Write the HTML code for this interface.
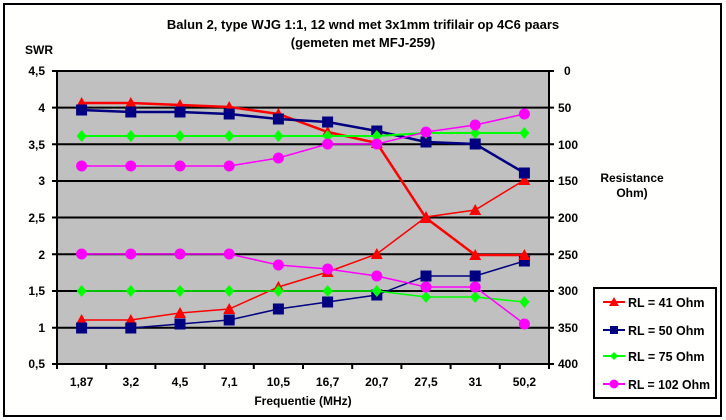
<!DOCTYPE html>
<html><head><meta charset="utf-8"><style>
body{margin:0;background:#fff;}
svg{display:block;font-family:"Liberation Sans",Arial,sans-serif;}
</style></head><body>
<svg width="726" height="420" viewBox="0 0 726 420" xmlns="http://www.w3.org/2000/svg">
<defs>
<marker id="tri" markerUnits="userSpaceOnUse" markerWidth="14" markerHeight="14" refX="7" refY="7" orient="0"><path d="M7,1 L13,12 L1,12 Z" fill="#ff0000"/></marker>
<marker id="sq" markerUnits="userSpaceOnUse" markerWidth="14" markerHeight="14" refX="7" refY="7" orient="0"><rect x="1.5" y="1.5" width="11" height="11" fill="#000080"/></marker>
<marker id="dia" markerUnits="userSpaceOnUse" markerWidth="14" markerHeight="14" refX="7" refY="7" orient="0"><path d="M7,1 L12,7 L7,13 L2,7 Z" fill="#00ff00"/></marker>
<marker id="cir" markerUnits="userSpaceOnUse" markerWidth="14" markerHeight="14" refX="7" refY="7" orient="0"><circle cx="7" cy="7" r="5.5" fill="#ff00ff"/></marker>
</defs>
<rect x="0" y="0" width="726" height="420" fill="#fff"/>
<rect x="4" y="4" width="717" height="412" fill="#fffffe" stroke="#000" stroke-width="2"/>
<text x="363" y="29" text-anchor="middle" font-size="13" font-weight="bold">Balun 2, type WJG 1:1, 12 wnd met 3x1mm trifilair op 4C6 paars</text>
<text x="363" y="47" text-anchor="middle" font-size="13" font-weight="bold">(gemeten met MFJ-259)</text>
<text x="25" y="54" font-size="12" font-weight="bold">SWR</text>
<rect x="57" y="71" width="492" height="293" fill="#c0c0c0"/>
<g stroke="#000" stroke-width="2">
<line x1="57" y1="107.6" x2="549" y2="107.6"/>
<line x1="57" y1="144.3" x2="549" y2="144.3"/>
<line x1="57" y1="181" x2="549" y2="181"/>
<line x1="57" y1="217.5" x2="549" y2="217.5"/>
<line x1="57" y1="254.3" x2="549" y2="254.3"/>
<line x1="57" y1="291" x2="549" y2="291"/>
<line x1="57" y1="327.7" x2="549" y2="327.7"/>
<rect x="57" y="71" width="492" height="293" fill="none"/>
<path d="M52,71h5M52,107.6h5M52,144.3h5M52,181h5M52,217.5h5M52,254.3h5M52,291h5M52,327.7h5M52,364h5"/>
<path d="M549,71h5M549,107.6h5M549,144.3h5M549,181h5M549,217.5h5M549,254.3h5M549,291h5M549,327.7h5M549,364h5"/>
<path d="M57,364v5M106.2,364v5M155.4,364v5M204.6,364v5M253.8,364v5M303,364v5M352.2,364v5M401.4,364v5M450.6,364v5M499.8,364v5M549,364v5"/>
</g>
<g font-size="12" font-weight="bold" text-anchor="end">
<text x="45" y="75">4,5</text><text x="45" y="112">4</text><text x="45" y="149">3,5</text><text x="45" y="185">3</text><text x="45" y="222">2,5</text><text x="45" y="259">2</text><text x="45" y="295">1,5</text><text x="45" y="332">1</text><text x="45" y="368">0,5</text>
</g>
<g font-size="12" font-weight="bold" text-anchor="start">
<text x="564" y="75">0</text><text x="558" y="112">50</text><text x="558" y="149">100</text><text x="558" y="185">150</text><text x="558" y="222">200</text><text x="558" y="259">250</text><text x="558" y="295">300</text><text x="558" y="332">350</text><text x="558" y="368">400</text>
</g>
<g font-size="12" font-weight="bold" text-anchor="middle">
<text x="81.6" y="386">1,87</text><text x="130.8" y="386">3,2</text><text x="180" y="386">4,5</text><text x="229.2" y="386">7,1</text><text x="278.4" y="386">10,5</text><text x="327.6" y="386">16,7</text><text x="376.8" y="386">20,7</text><text x="426" y="386">27,5</text><text x="475.2" y="386">31</text><text x="524.4" y="386">50,2</text>
<text x="303" y="405">Frequentie (MHz)</text>
<text x="632" y="182">Resistance</text>
<text x="632" y="197">Ohm)</text>
</g>
<g fill="none">
<polyline stroke="#ff0000" stroke-width="1.5" marker-start="url(#tri)" marker-mid="url(#tri)" marker-end="url(#tri)" points="81.6,320 130.8,320 180,313 229.2,309 278.4,287 327.6,272 376.8,254 426,217 475.2,210 524.4,180"/>
<polyline stroke="#000080" stroke-width="1.5" marker-start="url(#sq)" marker-mid="url(#sq)" marker-end="url(#sq)" points="81.6,328 130.8,328 180,324 229.2,320 278.4,309 327.6,302 376.8,295 426,276 475.2,276 524.4,261"/>
<polyline stroke="#00ff00" stroke-width="1.5" marker-start="url(#dia)" marker-mid="url(#dia)" marker-end="url(#dia)" points="81.6,291 130.8,291 180,291 229.2,291 278.4,291 327.6,291 376.8,291 426,297 475.2,297 524.4,302"/>
<polyline stroke="#ff00ff" stroke-width="1.5" marker-start="url(#cir)" marker-mid="url(#cir)" marker-end="url(#cir)" points="81.6,254 130.8,254 180,254 229.2,254 278.4,265 327.6,269 376.8,276 426,287 475.2,287 524.4,324"/>
<polyline stroke="#ff0000" stroke-width="2.5" marker-start="url(#tri)" marker-mid="url(#tri)" marker-end="url(#tri)" points="81.6,103 130.8,103 180,105 229.2,107 278.4,114 327.6,132 376.8,143 426,218 475.2,255 524.4,255"/>
<polyline stroke="#000080" stroke-width="2.5" marker-start="url(#sq)" marker-mid="url(#sq)" marker-end="url(#sq)" points="81.6,110 130.8,112 180,112 229.2,114 278.4,119 327.6,122 376.8,131 426,142 475.2,144 524.4,173"/>
<polyline stroke="#00ff00" stroke-width="2" marker-start="url(#dia)" marker-mid="url(#dia)" marker-end="url(#dia)" points="81.6,136 130.8,136 180,136 229.2,136 278.4,136 327.6,136 376.8,136 426,133 475.2,133 524.4,133"/>
<polyline stroke="#ff00ff" stroke-width="1.5" marker-start="url(#cir)" marker-mid="url(#cir)" marker-end="url(#cir)" points="81.6,166 130.8,166 180,166 229.2,166 278.4,158 327.6,144 376.8,144 426,132 475.2,125 524.4,114"/>
</g>
<rect x="594" y="288" width="122" height="110" fill="#fffffe" stroke="#000" stroke-width="2"/>
<g stroke-width="2">
<line x1="603" y1="302" x2="625" y2="302" stroke="#ff0000"/>
<line x1="603" y1="330" x2="625" y2="330" stroke="#000080"/>
<line x1="603" y1="356" x2="625" y2="356" stroke="#00ff00"/>
<line x1="603" y1="384" x2="625" y2="384" stroke="#ff00ff"/>
</g>
<path d="M614,297 L619,306 L609,306 Z" fill="#ff0000"/>
<rect x="610" y="326" width="8" height="8" fill="#000080"/>
<path d="M614,352 L618,356 L614,360 L610,356 Z" fill="#00ff00"/>
<circle cx="614" cy="384" r="4.5" fill="#ff00ff"/>
<g font-size="12.5" font-weight="bold">
<text x="628" y="307">RL = 41 Ohm</text>
<text x="628" y="335">RL = 50 Ohm</text>
<text x="628" y="361">RL = 75 Ohm</text>
<text x="628" y="389" textLength="82" lengthAdjust="spacingAndGlyphs">RL = 102 Ohm</text>
</g>
</svg>
</body></html>
